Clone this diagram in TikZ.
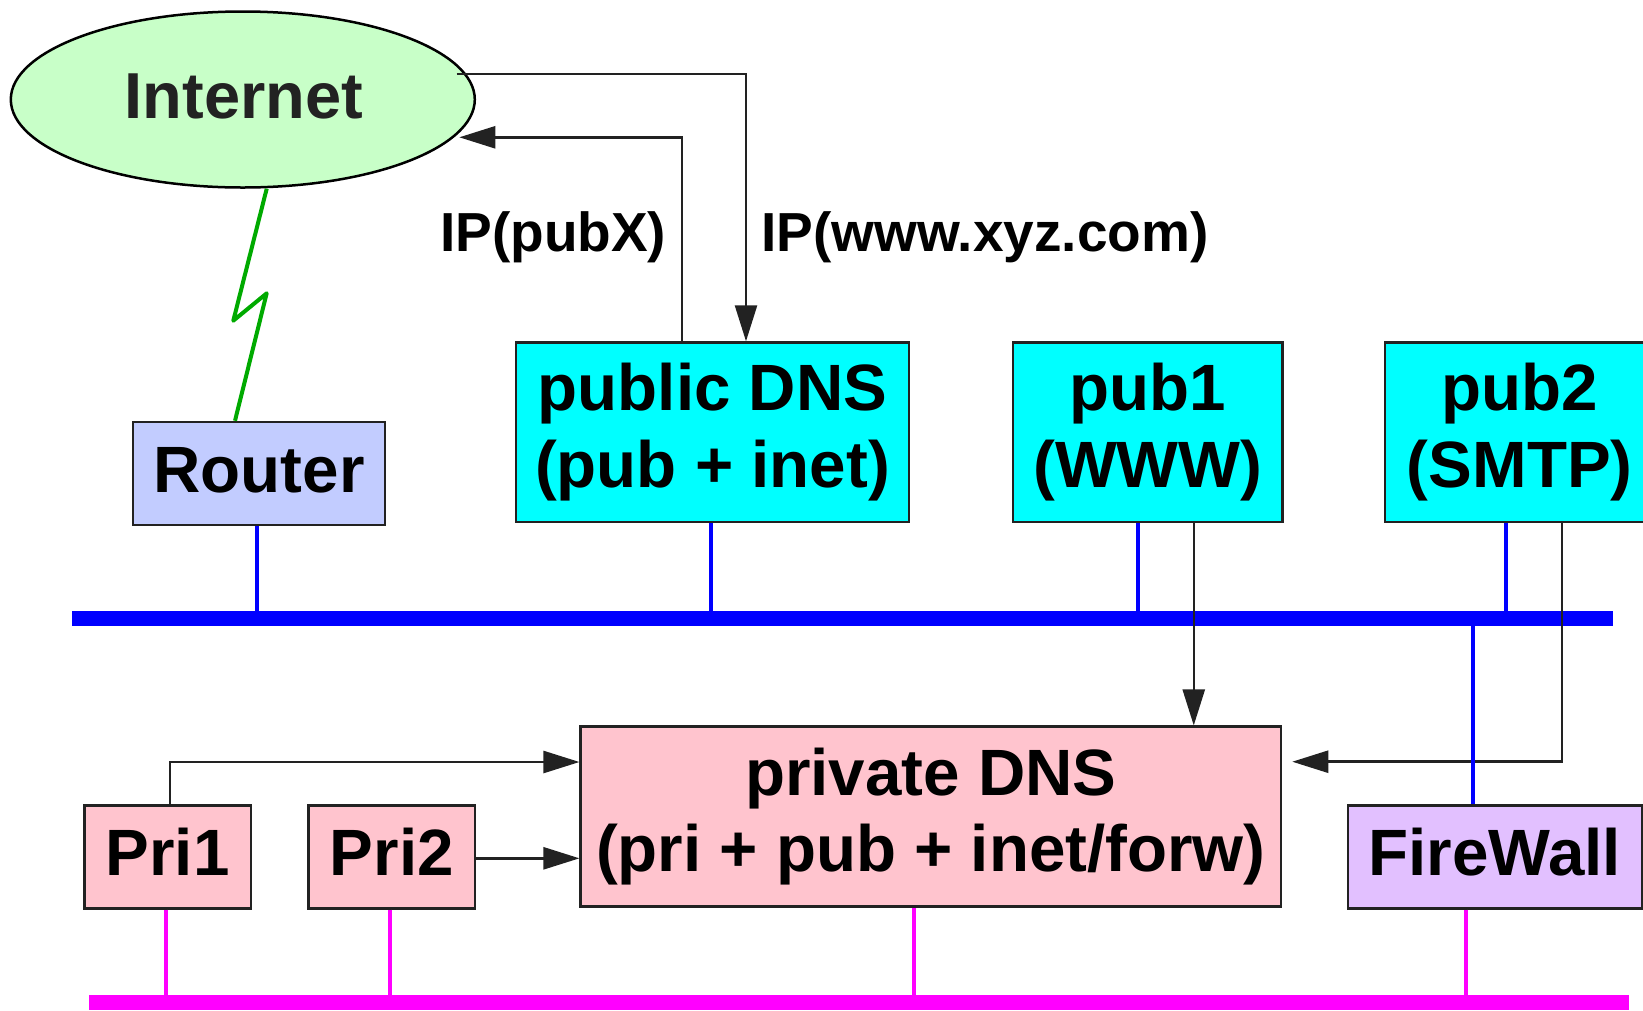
\documentclass[tikz,border=0pt]{standalone}
\usepackage{fontspec}
\setmainfont{Liberation Sans}
\usetikzlibrary{arrows.meta,shapes.geometric}

\definecolor{edge}{HTML}{222222}
\definecolor{inetfill}{HTML}{C8FFC8}
\definecolor{routerfill}{HTML}{C2CCFF}
\definecolor{pubfill}{HTML}{00FFFF}
\definecolor{prifill}{HTML}{FFC4CE}
\definecolor{fwfill}{HTML}{E2C0FF}
\definecolor{boltgreen}{HTML}{00AA00}
\definecolor{pubnet}{HTML}{0000FF}
\definecolor{prinet}{HTML}{FF00FF}

\begin{document}
\begin{tikzpicture}[x=1pt,y=-1pt,
  box/.style={draw=edge, line width=2.5pt, inner sep=0pt, align=center,
    font=\bfseries\fontsize{65.5}{76.5}\selectfont},
  onebox/.style={box, text height=47pt, text depth=9pt},
  cloud/.style={ellipse, draw=black, line width=2.5pt, fill=inetfill,
    inner sep=0pt, minimum width=464pt, minimum height=176pt},
  flow/.style={draw=edge, line width=2.5pt, -{Triangle[length=36pt,width=22pt]}},
  bus/.style={line width=15pt},
  pubbus/.style={bus, draw=pubnet},
  pribus/.style={bus, draw=prinet},
  pubtap/.style={draw=pubnet, line width=4.2pt},
  pritap/.style={draw=prinet, line width=4.2pt},
  bolt/.style={draw=boltgreen, line width=4pt, line join=round},
  tag/.style={font=\bfseries\fontsize{55}{66}\selectfont, inner sep=0pt, anchor=base west}
]
\useasboundingbox (0,0) rectangle (1643,1010);

% segments of the two networks
\coordinate (pubL) at (72,618.3);
\coordinate (pubR) at (1612.7,618.3);
\coordinate (priL) at (89,1002.3);
\coordinate (priR) at (1629,1002.3);

% hosts
\node[cloud] (inet) at (242.8,99.5) {};
\node[font=\bfseries\fontsize{65}{78}\selectfont, text=edge, inner sep=0pt,
      text height=46.5pt, text depth=9pt] (inettext) at (244,99.5) {Internet};

\node[onebox, fill=routerfill, minimum width=252pt, minimum height=103pt]
  (router) at (259,473.5) {Router};
\node[box, fill=pubfill, minimum width=393pt, minimum height=179.3pt]
  (pubdns) at (712.5,432.2) {public DNS\\(pub + inet)};
\node[box, fill=pubfill, minimum width=269.5pt, minimum height=179.3pt]
  (pub1) at (1147.75,432.2) {pub1\\(WWW)};
\node[box, fill=pubfill, minimum width=269.5pt, minimum height=179.3pt]
  (pub2) at (1519.75,432.2) {pub2\\(SMTP)};

\node[box, fill=prifill, minimum width=700.3pt, minimum height=179.8pt]
  (pridns) at (930.85,816.6) {private DNS\\(pri + pub + inet/forw)};
\node[onebox, fill=prifill, minimum width=166.5pt, minimum height=103pt]
  (pri1) at (167.6,856.8) {Pri1};
\node[onebox, fill=prifill, minimum width=166.1pt, minimum height=103pt]
  (pri2) at (391.75,856.8) {Pri2};
\node[onebox, fill=fwfill, minimum width=294.3pt, minimum height=103pt]
  (fw) at (1494.9,856.8) {FireWall};

% public network
\draw[pubtap] ([xshift=-2.3pt]router.south) -- ([xshift=-2.3pt]router.south |- pubL);
\draw[pubtap] ([xshift=-1.5pt]pubdns.south) -- ([xshift=-1.5pt]pubdns.south |- pubL);
\draw[pubtap] ([xshift=-10pt]pub1.south) -- ([xshift=-10pt]pub1.south |- pubL);
\draw[pubtap] ([xshift=-13.7pt]pub2.south) -- ([xshift=-13.7pt]pub2.south |- pubL);
\draw[pubbus] (pubL) -- (pubR);

% private network
\draw[pritap] ([xshift=-1.3pt]pri1.south) -- ([xshift=-1.3pt]pri1.south |- priL);
\draw[pritap] ([xshift=-2pt]pri2.south) -- ([xshift=-2pt]pri2.south |- priL);
\draw[pritap] ([xshift=-17pt]pridns.south) -- ([xshift=-17pt]pridns.south |- priL);
\draw[pritap] ([xshift=-29.2pt]fw.south) -- ([xshift=-29.2pt]fw.south |- priL);
\draw[pribus] (priL) -- (priR);

% radio link between the Internet and the router
\coordinate (zig1) at (233.3,320.7);
\coordinate (zig2) at (266.7,293.3);
\draw[bolt] ([xshift=23.9pt]inet.south) -- (zig1) -- (zig2) -- ([xshift=-24pt]router.north);

% name resolution flows
\draw[flow] ([xshift=213.9pt,yshift=25.5pt]inet.center) -| ([xshift=33.5pt]pubdns.north);
\draw[flow] ([xshift=-30.5pt]pubdns.north) |- ([xshift=216.5pt,yshift=-37.8pt]inet.center);
\draw[flow] ([xshift=46pt]pub1.south) -- ([xshift=46pt]pub1.south |- pridns.north);
\draw[flow] ([xshift=42pt]pub2.south) |- ([xshift=10pt,yshift=54.9pt]pridns.east);
\draw[flow] ([xshift=2.2pt]pri1.north) |- ([yshift=54.6pt]pridns.west);
\draw[flow] ([yshift=-1.5pt]pri2.east) -- ([yshift=-1.5pt]pri2.east -| pridns.west);

% firewall uplink
\draw[pubtap] ([xshift=-22.2pt]fw.north) -- ([xshift=-22.2pt]fw.north |- pubR);

% answers
\node[tag] (ippub) at (440,251.7) {IP(pubX)};
\node[tag] (ipwww) at (761,251.7) {IP(www.xyz.com)};
\end{tikzpicture}
\end{document}
